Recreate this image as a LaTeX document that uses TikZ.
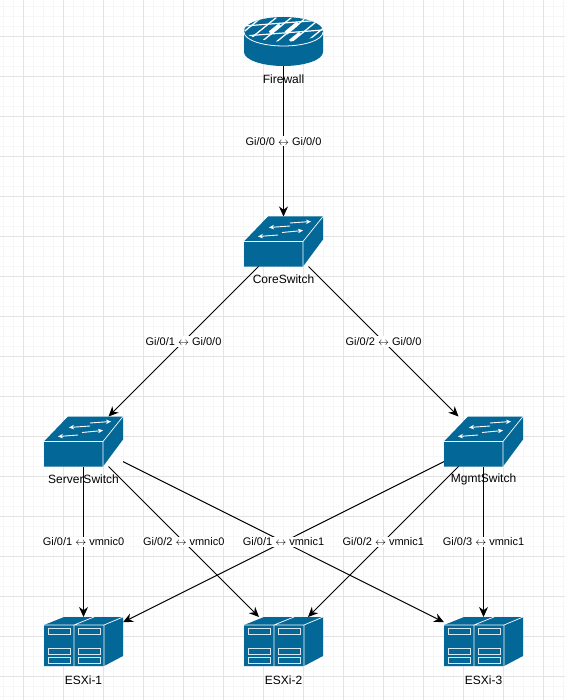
\documentclass[tikz,border=0pt]{standalone}
\usepackage{fontspec}
\setmainfont{Liberation Sans}
\usetikzlibrary{arrows.meta}
\definecolor{ciscoblue}{HTML}{036897}
\definecolor{gridmajor}{HTML}{E3E3E3}
\definecolor{gridminor}{HTML}{F7F7F7}
\definecolor{linkblack}{HTML}{000000}

\begin{document}
\begin{tikzpicture}[
    x=1pt, y=-1pt,
    devbox/.style={minimum width=79pt, minimum height=#1, inner sep=0pt, outer sep=0pt},
    devlbl/.style={font=\fontsize{12}{14}\selectfont, text=black, inner sep=0pt},
    lnk/.style={-{Stealth[length=10pt,width=9pt]}, line width=1pt, linkblack},
    lbl/.style={font=\fontsize{11}{13}\selectfont, fill=white, inner sep=1pt, text=black},
    bay/.style={fill=ciscoblue, draw=white!85!ciscoblue, line width=0.9pt},
    swarrow/.style={-{Stealth[length=5pt,width=4.5pt]}, white, line width=0.9pt}
  ]
    \useasboundingbox (0,0) rectangle (565,700);
    \fill[white] (0,0) rectangle (565,700);

    % --- Grid ---
    \foreach \i in {0,...,56} \draw[gridminor, line width=1pt] (3.5+\i*10,0) -- (3.5+\i*10,700);
    \foreach \i in {0,...,69} \draw[gridminor, line width=1pt] (0,6.5+\i*10) -- (565,6.5+\i*10);
    \foreach \i in {0,...,13} \draw[gridmajor, line width=1pt] (23.5+\i*40,0) -- (23.5+\i*40,700);
    \foreach \i in {0,...,16} \draw[gridmajor, line width=1pt] (0,36.5+\i*40) -- (565,36.5+\i*40);

    % --- Devices ---
    \node[devbox=49pt] (fw) at (283.5,41.5) {};
    \node[devbox=50pt] (coresw) at (283.5,241.5) {};
    \node[devbox=50pt] (serversw) at (83.5,441.5) {};
    \node[devbox=50pt] (mgmtsw) at (483.5,441.5) {};
    \node[devbox=49pt] (esxa) at (83.5,641.5) {};
    \node[devbox=49pt] (esxb) at (283.5,641.5) {};
    \node[devbox=49pt] (esxc) at (483.5,641.5) {};

    % --- Firewall icon ---
    \begin{scope}[shift={(fw.north west)}]
      \fill[ciscoblue] (0,14) -- (0,35) arc[start angle=180, end angle=0, x radius=39.5, y radius=14]
        -- (79,14) arc[start angle=0, end angle=-180, x radius=39.5, y radius=14] -- cycle;
      \draw[white, line width=0.8pt] (0,15) arc[start angle=180, end angle=0, x radius=39.5, y radius=14];
      \begin{scope}
        \clip (39.5,12.5) ellipse[x radius=39.5, y radius=12];
        \foreach \i in {0,...,7} \draw[white, line width=1.3pt] (-14+\i*15,26) -- (18+\i*15,0);
        \foreach \j in {7,17} \draw[white, line width=1.2pt] (0,\j+2) -- (79,\j-4);
        \draw[white, line width=4pt] (26,16) -- (36,8);
        \draw[white, line width=4pt] (42,16) -- (54,6);
        \draw[white, line width=3pt] (46,24) -- (56,16);
      \end{scope}
    \end{scope}

    % --- Switch icons ---
    \foreach \n in {coresw,serversw,mgmtsw} {
      \begin{scope}[shift={(\n.north west)}]
        \fill[ciscoblue] (0,25) -- (24,0) -- (79,0) -- (79,23) -- (59,50) -- (0,50) -- cycle;
        \draw[white, line width=0.7pt, line join=round] (0,25) -- (59,25) -- (79,0) (59,25) -- (59,50);
        \draw[swarrow] (46,9.5) -- (25,11);
        \draw[swarrow] (46,6.5) -- (67,5);
        \draw[swarrow] (34,18.5) -- (14,20);
        \draw[swarrow] (38,16) -- (59,14);
      \end{scope}
    }

    % --- ESXi icons ---
    \foreach \n in {esxa,esxb,esxc} {
      \begin{scope}[shift={(\n.north west)}]
        \fill[ciscoblue] (0,8) -- (20,0) -- (79,0) -- (79,39) -- (60,49) -- (0,49) -- cycle;
        \draw[white, line width=0.7pt, line join=round] (0,8) -- (60,8) -- (79,0) (60,8) -- (60,49) (30,8) -- (30,49) (30,8) -- (50,0);
        \foreach \dx in {4,34} {
          \draw[bay] (\dx,11.5) rectangle ++(22,5.5);
          \draw[bay] (\dx,31.5) rectangle ++(22,5.5);
          \draw[bay] (\dx,40.5) rectangle ++(22,5.5);
        }
      \end{scope}
    }

    % --- Links ---
    \draw[lnk] (fw.south) -- node[lbl] (fwcore) {Gi/0/0 $\leftrightarrow$ Gi/0/0} (coresw.north);
    \draw[lnk] (coresw.225) -- node[lbl] (coresrv) {Gi/0/1 $\leftrightarrow$ Gi/0/0} (serversw.45);
    \draw[lnk] (coresw.315) -- node[lbl] (coremgmt) {Gi/0/2 $\leftrightarrow$ Gi/0/0} (mgmtsw.135);
    \draw[lnk] (serversw.south) -- node[lbl] (srva) {Gi/0/1 $\leftrightarrow$ vmnic0} (esxa.north);
    \draw[lnk] (serversw.315) -- node[lbl] (srvb) {Gi/0/2 $\leftrightarrow$ vmnic0} (esxb.135);
    \draw[lnk] (serversw.-27) -- (esxc.154);
    \draw[lnk] (mgmtsw.207) -- node[lbl] (mgmta) {Gi/0/1 $\leftrightarrow$ vmnic1} (esxa.26);
    \draw[lnk] (mgmtsw.225) -- node[lbl] (mgmtb) {Gi/0/2 $\leftrightarrow$ vmnic1} (esxb.45);
    \draw[lnk] (mgmtsw.south) -- node[lbl] (mgmtc) {Gi/0/3 $\leftrightarrow$ vmnic1} (esxc.north);

    % --- Device names ---
    \node[devlbl] (fwname) at (283.5,79.5) {Firewall};
    \node[devlbl] (corename) at (283.5,279.5) {CoreSwitch};
    \node[devlbl] (srvname) at (83.5,479.5) {ServerSwitch};
    \node[devlbl] (mgmtname) at (483.5,479.5) {MgmtSwitch};
    \node[devlbl] (esxaname) at (83.5,680) {ESXi-1};
    \node[devlbl] (esxbname) at (283.5,680) {ESXi-2};
    \node[devlbl] (esxcname) at (483.5,680) {ESXi-3};
  \end{tikzpicture}
\end{document}
